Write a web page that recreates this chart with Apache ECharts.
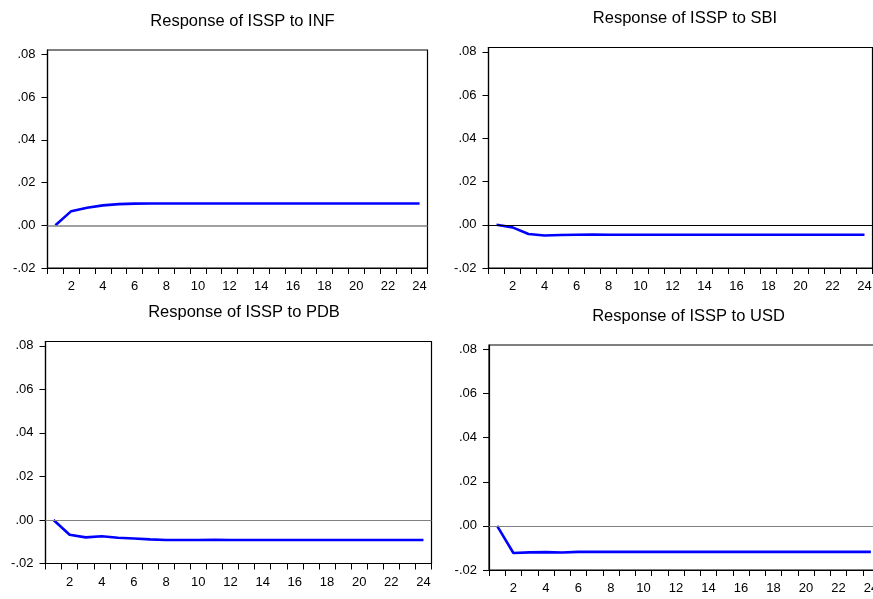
<!DOCTYPE html>
<html>
<head>
<meta charset="utf-8">
<script src="https://cdn.jsdelivr.net/npm/echarts@6/dist/echarts.min.js"></script>
<style>
  html, body { margin: 0; padding: 0; background: #fff; }
  #chart { width: 873px; height: 599px; }
</style>
</head>
<body>
<div id="chart"></div>
<script>
// periods 1..24
const periods = ['1','2','3','4','5','6','7','8','9','10','11','12','13','14','15','16','17','18','19','20','21','22','23','24']
const yTicks = [-0.02, 0, 0.02, 0.04, 0.06, 0.08]
const titles = ['Response of ISSP to INF', 'Response of ISSP to SBI', 'Response of ISSP to PDB', 'Response of ISSP to USD']

// responses
const infResp = [0, 0.0066, 0.0082, 0.0093, 0.0099, 0.0101, 0.0102, 0.0102, 0.0102, 0.0102, 0.0102, 0.0102,
  0.0102, 0.0102, 0.0102, 0.0102, 0.0102, 0.0102, 0.0102, 0.0102, 0.0102, 0.0102, 0.0102, 0.0102]
const sbiResp = [0, -0.0012, -0.0043, -0.0050, -0.0047, -0.0046, -0.0045, -0.0046, -0.0046, -0.0046, -0.0046, -0.0046,
  -0.0046, -0.0046, -0.0046, -0.0046, -0.0046, -0.0046, -0.0046, -0.0046, -0.0046, -0.0046, -0.0046, -0.0046]
const pdbResp = [0, -0.0068, -0.0080, -0.0075, -0.0082, -0.0085, -0.0089, -0.0092, -0.0092, -0.0092, -0.0091, -0.0092,
  -0.0092, -0.0092, -0.0092, -0.0092, -0.0092, -0.0092, -0.0092, -0.0092, -0.0092, -0.0092, -0.0092, -0.0092]
const usdResp = [0, -0.0123, -0.0120, -0.0119, -0.0121, -0.0118, -0.0118, -0.0118, -0.0118, -0.0118, -0.0118, -0.0118,
  -0.0118, -0.0118, -0.0118, -0.0118, -0.0118, -0.0118, -0.0118, -0.0118, -0.0118, -0.0118, -0.0118, -0.0118]

const allResp = [infResp, sbiResp, pdbResp, usdResp]
const zeroColors = ['#808080', '#000000', '#808080', '#808080']
const zeroWidths = [1.5, 1, 1.2, 1]

const grids = [
  { left: 47.5, top: 50, width: 380, height: 218 },
  { left: 488.5, top: 47.5, width: 384, height: 220.5 },
  { left: 45.5, top: 341.5, width: 386, height: 222 },
  { left: 489, top: 345, width: 390, height: 225 }
]
const titlePos = [[237.5, 8], [680, 4.5], [239, 299], [683.5, 303]]

const fontFamily = '"Liberation Sans", Arial, sans-serif'

const myChart = echarts.init(document.getElementById('chart'))

let option = {
  backgroundColor: '#fff',
  animation: false,
  title: titles.map((t, i) => ({
    text: t,
    left: titlePos[i][0],
    top: titlePos[i][1],
    textAlign: 'center',
    textStyle: { fontFamily: fontFamily, fontSize: 16.5, fontWeight: 'normal', color: '#000' }
  })),
  grid: grids.map(g => Object.assign({
    show: true,
    borderColor: '#000',
    borderWidth: 1.2,
    backgroundColor: 'transparent',
    containLabel: false,
    outerBoundsMode: 'none'
  }, g)),
  xAxis: grids.map((g, i) => ({
    type: 'category',
    gridIndex: i,
    data: periods,
    boundaryGap: true,
    axisLine: { show: true, onZero: false, lineStyle: { color: '#000', width: 1.2 } },
    axisTick: { show: true, interval: 0, length: 6, lineStyle: { color: '#000' } },
    axisLabel: {
      // only the even periods get a label
      interval: function (idx) { return idx % 2 === 1 },
      margin: 12,
      fontFamily: fontFamily,
      fontSize: 13,
      color: '#000'
    },
    splitLine: { show: false }
  })),
  yAxis: grids.map((g, i) => ({
    type: 'value',
    gridIndex: i,
    min: -0.02,
    max: 0.082,
    axisLine: { show: true, onZero: false, lineStyle: { color: '#000', width: 1.2 } },
    axisTick: { show: true, length: 6, customValues: yTicks, lineStyle: { color: '#000' } },
    axisLabel: {
      customValues: yTicks,
      margin: 12,
      fontFamily: fontFamily,
      fontSize: 13,
      color: '#000',
      formatter: function (v) { return v.toFixed(2).replace('0.', '.') }
    },
    splitLine: { show: false }
  })),
  series: allResp.map((d, i) => ({
    type: 'line',
    xAxisIndex: i,
    yAxisIndex: i,
    data: d,
    symbol: 'none',
    lineStyle: { color: '#0000FF', width: 2.6 },
    markLine: {
      silent: true,
      symbol: 'none',
      label: { show: false },
      lineStyle: { color: zeroColors[i], width: zeroWidths[i], type: 'solid' },
      data: [{ yAxis: 0 }]
    },
    z: 3
  }))
}

myChart.clear()
myChart.setOption(option)
window.addEventListener('resize', function () {
  myChart.resize()
})
</script>
</body>
</html>
